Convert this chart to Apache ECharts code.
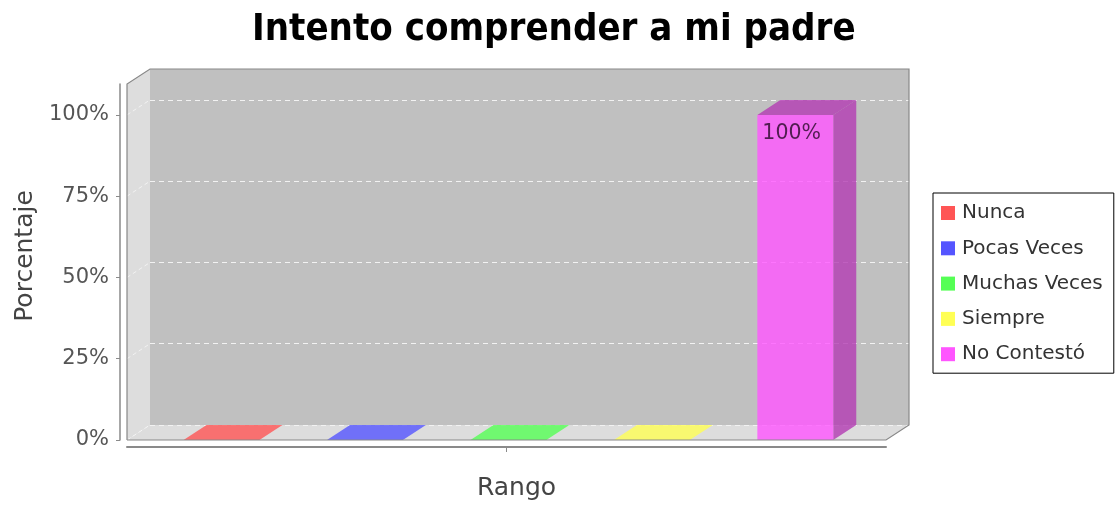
<!DOCTYPE html>
<html>
<head>
<meta charset="utf-8">
<script src="https://cdn.jsdelivr.net/npm/echarts@6/dist/echarts.min.js"></script>
<style>html,body{margin:0;padding:0;background:#fff}#c{width:1115px;height:506px}</style>
</head>
<body>
<div id="c"></div>
<script>
// ---- data ----
const categories = [''];
const seriesNames = ['Nunca', 'Pocas Veces', 'Muchas Veces', 'Siempre', 'No Contestó'];
const values = [0, 0, 0, 0, 100];
const yTicks = [0, 25, 50, 75, 100];
const baseColors = ['#ff5555', '#5555ff', '#55ff55', '#ffff55', '#ff55ff'];

// ---- layout ----
const W = 1115, H = 506;
const G = { left: 127, top: 84, right: 229, bottom: 66 };
const DX = 23, DY = 15;
const FX0 = G.left, FX1 = W - G.right, FY0 = G.top, FY1 = H - G.bottom;

function darker(hex, f) {
  const n = parseInt(hex.slice(1), 16);
  const r = Math.round(((n >> 16) & 255) * f), g = Math.round(((n >> 8) & 255) * f), b = Math.round((n & 255) * f);
  return 'rgb(' + r + ',' + g + ',' + b + ')';
}
function alpha(hex, a) {
  const n = parseInt(hex.slice(1), 16);
  return 'rgba(' + ((n >> 16) & 255) + ',' + ((n >> 8) & 255) + ',' + (n & 255) + ',' + a + ')';
}
function alphaRgb(rgb, a) { return rgb.replace('rgb(', 'rgba(').replace(')', ',' + a + ')'); }

const chart = echarts.init(document.getElementById('c'), null, { renderer: 'canvas' });

function makeSeries(i) {
  return {
    name: seriesNames[i],
    type: 'custom',
    xAxisIndex: 0, yAxisIndex: 0,
    z: 5,
    itemStyle: { color: baseColors[i] },
    encode: { x: 0, y: 1 },
    data: [[0, values[i]]],
    renderItem: function (params, api) {
      const band = api.size([1, 0])[0];
      const bw = band * 0.1;
      const step = band * 0.189;
      const base = api.coord([api.value(0), 0]);
      const topP = api.coord([api.value(0), api.value(1)]);
      const cx = base[0] + (i - 2) * step + band * 0.0025;
      const x = cx - bw / 2, yb = base[1], yt = topP[1];
      const v = api.value(1);
      const front = alpha(baseColors[i], 0.8);
      const dark = alphaRgb(darker(baseColors[i], 0.7), 0.8);
      const children = [];
      children.push({ type: 'polygon', shape: { points: [[x + bw, yt], [x + bw + DX, yt - DY], [x + bw + DX, yb - DY], [x + bw, yb]] }, style: { fill: v > 0 ? dark : front } });
      children.push({ type: 'polygon', shape: { points: [[x, yt], [x + DX, yt - DY], [x + bw + DX, yt - DY], [x + bw, yt]] }, style: { fill: v > 0 ? dark : front } });
      if (yb - yt > 0) {
        children.push({ type: 'rect', shape: { x: x, y: yt, width: bw, height: yb - yt }, style: { fill: front } });
        children.push({ type: 'text', style: { text: v + '%', x: x + 5, y: yt + 19, fill: 'rgba(40,10,40,0.8)', fontSize: 20.5, fontFamily: 'DejaVu Sans', align: 'left', verticalAlign: 'middle', textAlign: 'left', textVerticalAlign: 'middle' } });
      }
      return { type: 'group', children: children };
    }
  };
}

const option = {
  animation: false,
  backgroundColor: '#ffffff',
  title: {
    text: 'Intento comprender a mi padre',
    left: 247, top: 6,
    textStyle: { fontFamily: 'DejaVu Sans Condensed', fontWeight: 'bold', fontSize: 38, color: '#000' }
  },
  legend: {
    orient: 'vertical',
    left: 933, top: 193,
    padding: [10, 11, 9, 8],
    itemWidth: 14, itemHeight: 14, itemGap: 15.3,
    icon: 'rect',
    borderColor: '#000', borderWidth: 1, backgroundColor: '#fff',
    textStyle: { fontFamily: 'DejaVu Sans', fontSize: 20, color: '#333', lineHeight: 20, padding: [0, 0, 0, 2] },
    data: seriesNames
  },
  grid: [
    { left: G.left, top: G.top, right: G.right, bottom: G.bottom },
    { left: G.left + DX, top: G.top - DY, right: G.right - DX, bottom: G.bottom + DY }
  ],
  xAxis: [
    {
      gridIndex: 0, type: 'category', data: categories, offset: 7,
      axisLine: { show: true, onZero: false, lineStyle: { color: '#8a8a8a', width: 2 } },
      axisTick: { show: true, alignWithLabel: true, length: 5, lineStyle: { color: '#8a8a8a' } },
      axisLabel: { show: false },
      name: 'Rango', nameLocation: 'middle', nameGap: 29,
      nameTextStyle: { fontFamily: 'DejaVu Sans', fontSize: 25, color: '#444', padding: [0, 0, 0, 20] }
    },
    { gridIndex: 1, type: 'category', data: categories, show: false }
  ],
  yAxis: [
    {
      gridIndex: 0, type: 'value', min: 0, max: 109.5, interval: 25, offset: 7,
      axisLine: { show: true, lineStyle: { color: '#8a8a8a', width: 1.5 } },
      axisTick: { show: true, length: 4, lineStyle: { color: '#8a8a8a' }, customValues: yTicks },
      axisLabel: { customValues: yTicks, formatter: function (v) { return (v % 25 === 0 && v <= 100) ? v + '%' : ''; }, fontFamily: 'DejaVu Sans', fontSize: 21, color: '#555', margin: 11 },
      splitLine: { show: false },
      name: 'Porcentaje', nameLocation: 'middle', nameGap: 82,
      nameTextStyle: { fontFamily: 'DejaVu Sans', fontSize: 25, color: '#444', padding: [0, 0, 0, 12] }
    },
    {
      gridIndex: 1, type: 'value', min: 0, max: 109.5, interval: 25,
      axisLine: { show: false }, axisTick: { show: false }, axisLabel: { show: false },
      splitLine: { show: true, showMaxLine: false, lineStyle: { color: '#f2f2f2', type: [5, 4], width: 1 } }
    }
  ],
  graphic: [],
  series: seriesNames.map(function (_, i) { return makeSeries(i); })
};

chart.setOption(option);

const walls = [];
walls.push({ type: 'rect', z: -10, shape: { x: FX0 + DX, y: FY0 - DY, width: FX1 - FX0, height: FY1 - FY0 }, style: { fill: '#c0c0c0' } });
walls.push({ type: 'polygon', z: -9, shape: { points: [[FX0, FY0], [FX0 + DX, FY0 - DY], [FX0 + DX, FY1 - DY], [FX0, FY1]] }, style: { fill: '#dddddd' } });
walls.push({ type: 'polygon', z: -9, shape: { points: [[FX0, FY1], [FX0 + DX, FY1 - DY], [FX1 + DX, FY1 - DY], [FX1, FY1]] }, style: { fill: '#dddddd' } });
yTicks.forEach(function (t) {
  const yf = chart.convertToPixel({ yAxisIndex: 0 }, t);
  walls.push({ type: 'line', z: -8, shape: { x1: FX0, y1: yf, x2: FX0 + DX, y2: yf - DY }, style: { stroke: 'rgba(255,255,255,0.6)', lineWidth: 1, lineDash: [4, 3] } });
});
walls.push({ type: 'polyline', z: 10, shape: { points: [[FX0, FY1], [FX0, FY0], [FX0 + DX, FY0 - DY], [FX1 + DX, FY0 - DY], [FX1 + DX, FY1 - DY], [FX1, FY1], [FX0, FY1]] }, style: { stroke: '#888888', lineWidth: 1.2, fill: null } });
chart.setOption({ graphic: walls });
</script>
</body>
</html>
